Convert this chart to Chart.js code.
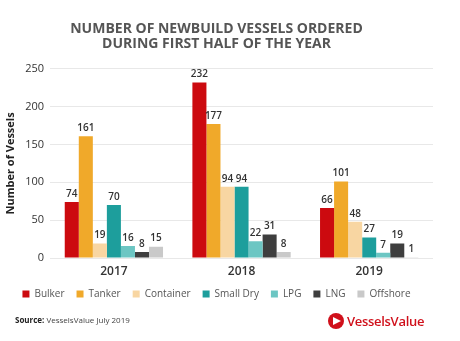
<!DOCTYPE html>
<html>
<head>
<meta charset="utf-8">
<script src="https://cdn.jsdelivr.net/npm/chart.js@4/dist/chart.umd.min.js"></script>
<style>
  html, body { margin: 0; padding: 0; background: #fff; }
  #wrap { position: relative; width: 460px; height: 341px; }
  #source { position: absolute; left: 15px; top: 314px; font: 8px "Open Sans", sans-serif; color: #444; }
  #source b { color: #222; }
  #logo { position: absolute; left: 328px; top: 312px; font: 600 13px "Open Sans", sans-serif; color: #d0101b; letter-spacing: -0.3px; }
  #logo span.dot { display: inline-block; width: 16px; height: 16px; border-radius: 50%; background: #d0101b; vertical-align: -3px; margin-right: 3px; position: relative; }
  #logo span.dot:after { content: ""; position: absolute; left: 5px; top: 3.5px; border-left: 8px solid #fff; border-top: 4.5px solid transparent; border-bottom: 4.5px solid transparent; }
</style>
</head>
<body>
<div id="wrap">
  <canvas id="chart" width="460" height="341"></canvas>
  <div id="source"><b>Source:</b> VesselsValue July 2019</div>
  <div id="logo"><span class="dot"></span>VesselsValue</div>
</div>
<script>
// data
var years = ["2017", "2018", "2019"];
var bulker = [74, 232, 66];
var tanker = [161, 177, 101];
var container = [19, 94, 48];
var smallDry = [70, 94, 27];
var lpg = [16, 22, 7];
var lng = [8, 31, 19];
var offshore = [15, 8, 1];
var yTicks = [0, 50, 100, 150, 200, 250];

var font = "'Open Sans', sans-serif";

function series(label, values, color) {
    return {
        label: label,
        data: values,
        backgroundColor: color,
        borderWidth: 0,
        barPercentage: 1.0,
        categoryPercentage: 0.77
    };
}

var data = {
    labels: years,
    datasets: [
        series("Bulker", bulker, "#cc0a0f"),
        series("Tanker", tanker, "#f0a92a"),
        series("Container", container, "#f8d6a2"),
        series("Small Dry", smallDry, "#1d9e9c"),
        series("LPG", lpg, "#6cc6c3"),
        series("LNG", lng, "#3e3e3e"),
        series("Offshore", offshore, "#c9c9c9")
    ]
};

// value labels above bars
var barValues = {
    id: "barValues",
    afterDatasetsDraw: function (chart) {
        var ctx = chart.ctx;
        ctx.save();
        ctx.font = "600 10px " + font;
        ctx.fillStyle = "#333";
        ctx.textAlign = "center";
        ctx.textBaseline = "bottom";
        chart.data.datasets.forEach(function (ds, i) {
            chart.getDatasetMeta(i).data.forEach(function (bar, j) {
                ctx.fillText(ds.data[j], bar.x, bar.y - 3);
            });
        });
        ctx.restore();
    }
};

// pull the legend a bit closer to the year labels
var legendUp = {
    id: "legendUp",
    afterLayout: function (chart) {
        chart.legend.top -= 1;
        chart.legend.bottom -= 1;
    }
};

var options = {
    responsive: false,
    animation: false,
    layout: { padding: { left: 0, right: 27, top: 0, bottom: 31 } },
    plugins: {
        title: {
            display: true,
            text: ["NUMBER OF NEWBUILD VESSELS ORDERED", "DURING FIRST HALF OF THE YEAR"],
            color: "#555",
            font: { family: font, size: 14, weight: "bold", lineHeight: 1.1 },
            padding: { top: 21, bottom: 17 }
        },
        legend: {
            position: "bottom",
            labels: {
                color: "#555",
                font: { family: font, size: 10 },
                boxWidth: 7,
                boxHeight: 7,
                padding: 12
            }
        },
        tooltip: { enabled: false }
    },
    scales: {
        x: {
            grid: { display: false },
            border: { display: false },
            ticks: { color: "#333", font: { family: font, size: 12, weight: "600", lineHeight: 1 }, padding: 0 }
        },
        y: {
            min: 0,
            max: 250,
            afterBuildTicks: function (axis) {
                axis.ticks = yTicks.map(function (v) { return { value: v }; });
            },
            grid: { color: "#e8e8e8", drawTicks: false },
            border: { display: false },
            ticks: { color: "#333", font: { family: font, size: 11 }, padding: 6 },
            title: {
                display: true,
                text: "Number of Vessels",
                color: "#222",
                font: { family: font, size: 11, weight: "bold" },
                padding: { top: 4, bottom: 2 }
            }
        }
    }
};

new Chart("chart", {
    type: "bar",
    data: data,
    options: options,
    plugins: [barValues, legendUp]
});
</script>
</body>
</html>
